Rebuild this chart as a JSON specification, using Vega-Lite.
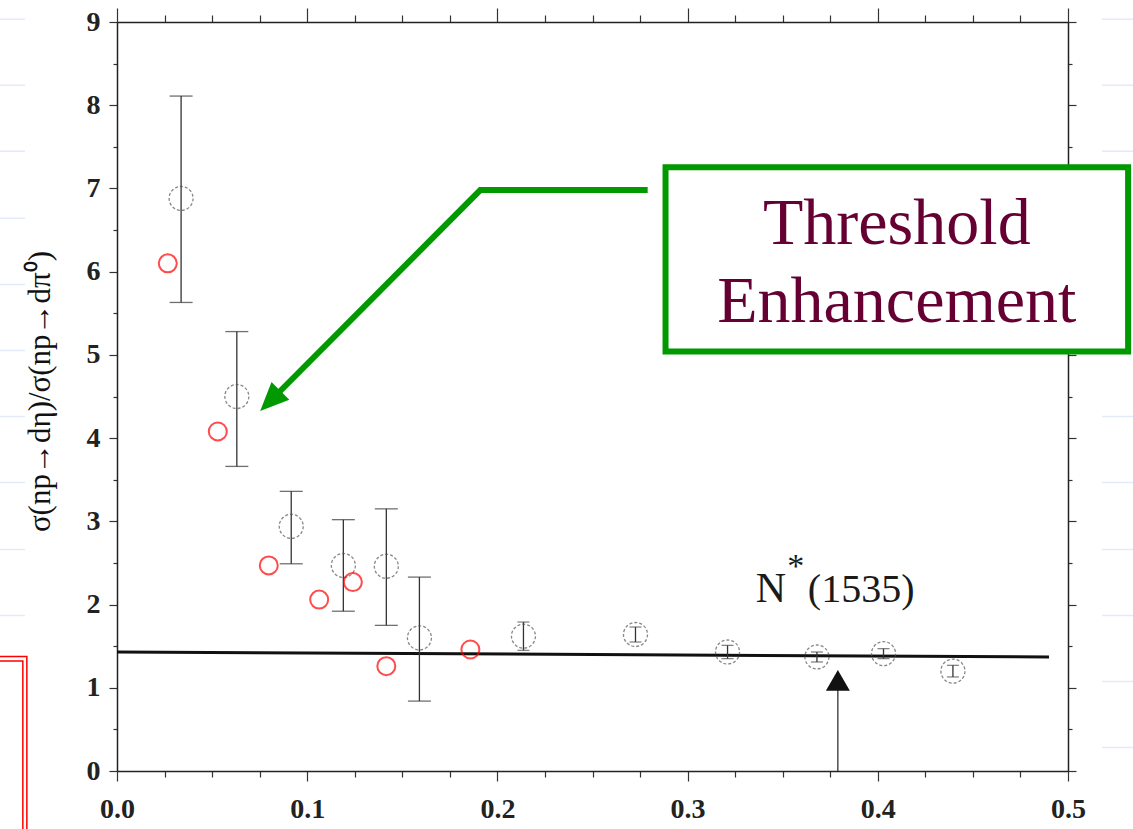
{
  "$schema": "https://vega.github.io/schema/vega-lite/v6.json",
  "width": 951,
  "height": 749,
  "autosize": {"type": "none"},
  "padding": {"left": 117, "top": 22, "right": 65, "bottom": 58},
  "background": "white",
  "config": {"view": {"stroke": null}},
  "resolve": {"axis": {"x": "independent", "y": "independent"}},
  "datasets": {
    "black": [
      {"x": 0.0337, "y": 6.88, "lo": 5.63, "hi": 8.11},
      {"x": 0.063, "y": 4.50, "lo": 3.66, "hi": 5.28},
      {"x": 0.0916, "y": 2.94, "lo": 2.49, "hi": 3.36},
      {"x": 0.119, "y": 2.47, "lo": 1.92, "hi": 3.02},
      {"x": 0.1416, "y": 2.46, "lo": 1.75, "hi": 3.15},
      {"x": 0.159, "y": 1.60, "lo": 0.84, "hi": 2.33},
      {"x": 0.2137, "y": 1.62, "lo": 1.45, "hi": 1.79},
      {"x": 0.2726, "y": 1.64, "lo": 1.55, "hi": 1.73},
      {"x": 0.321, "y": 1.43, "lo": 1.35, "hi": 1.51},
      {"x": 0.368, "y": 1.37, "lo": 1.31, "hi": 1.43},
      {"x": 0.403, "y": 1.41, "lo": 1.35, "hi": 1.47},
      {"x": 0.4395, "y": 1.20, "lo": 1.13, "hi": 1.27}
    ],
    "red": [
      {"x": 0.0267, "y": 6.10},
      {"x": 0.053, "y": 4.08},
      {"x": 0.0798, "y": 2.47},
      {"x": 0.1063, "y": 2.06},
      {"x": 0.124, "y": 2.27},
      {"x": 0.1416, "y": 1.26},
      {"x": 0.1858, "y": 1.46}
    ],
    "fit": [
      {"x": 0.0, "y": 1.43},
      {"x": 0.49, "y": 1.37}
    ],
    "ruling": [
      {"x": -0.07, "x2": -0.0484, "y": 9.032},
      {"x": -0.07, "x2": -0.0484, "y": 8.239},
      {"x": -0.07, "x2": -0.0484, "y": 7.446},
      {"x": -0.07, "x2": -0.0484, "y": 6.641},
      {"x": -0.07, "x2": -0.0484, "y": 5.847},
      {"x": -0.07, "x2": -0.0484, "y": 5.054},
      {"x": -0.07, "x2": -0.0484, "y": 4.261},
      {"x": -0.07, "x2": -0.0484, "y": 3.468},
      {"x": -0.07, "x2": -0.0484, "y": 2.662},
      {"x": -0.07, "x2": -0.0484, "y": 1.869},
      {"x": 0.5179, "x2": 0.54, "y": 9.032},
      {"x": 0.5179, "x2": 0.54, "y": 8.239},
      {"x": 0.5179, "x2": 0.54, "y": 7.446},
      {"x": 0.5179, "x2": 0.54, "y": 4.261},
      {"x": 0.5179, "x2": 0.54, "y": 3.468},
      {"x": 0.5179, "x2": 0.54, "y": 2.662},
      {"x": 0.5179, "x2": 0.54, "y": 1.869},
      {"x": 0.5179, "x2": 0.54, "y": 1.076},
      {"x": 0.5179, "x2": 0.54, "y": 0.282}
    ]
  },
  "layer": [
    {
      "data": {"name": "ruling"},
      "mark": {"type": "rule", "color": "#e3eafa", "strokeWidth": 1.5},
      "encoding": {
        "x": {"field": "x", "type": "quantitative", "scale": {"domain": [0, 0.5], "nice": false, "zero": false}, "axis": null},
        "x2": {"field": "x2"},
        "y": {"field": "y", "type": "quantitative", "scale": {"domain": [0, 9], "nice": false, "zero": false}, "axis": null}
      }
    },
    {
      "data": {"values": [
        {"x": -0.1, "x2": -0.0474, "y": 1.376, "y2": -1},
        {"x": -0.1, "x2": -0.0495, "y": 1.322, "y2": -1}
      ]},
      "mark": {"type": "rect", "fill": "transparent", "stroke": "#ff0000", "strokeWidth": 1.5},
      "encoding": {
        "x": {"field": "x", "type": "quantitative", "scale": {"domain": [0, 0.5], "nice": false, "zero": false}, "axis": null},
        "x2": {"field": "x2"},
        "y": {"field": "y", "type": "quantitative", "scale": {"domain": [0, 9], "nice": false, "zero": false}, "axis": null},
        "y2": {"field": "y2"}
      }
    },
    {
      "data": {"name": "fit"},
      "mark": {"type": "line", "color": "#111111", "strokeWidth": 3},
      "encoding": {
        "x": {"field": "x", "type": "quantitative", "scale": {"domain": [0, 0.5], "nice": false, "zero": false},
          "axis": {"orient": "top", "labels": false, "title": null, "grid": false, "domain": true, "domainColor": "#222222", "domainWidth": 1.5,
            "values": [0,0.025,0.05,0.075,0.1,0.125,0.15,0.175,0.2,0.225,0.25,0.275,0.3,0.325,0.35,0.375,0.4,0.425,0.45,0.475,0.5],
            "tickColor": "#333333", "tickWidth": 1.2,
            "tickSize": {"condition": {"test": "abs(datum.value*10 - round(datum.value*10)) < 0.001", "value": 14}, "value": 7}}},
        "y": {"field": "y", "type": "quantitative", "scale": {"domain": [0, 9], "nice": false, "zero": false},
          "axis": {"orient": "right", "labels": false, "title": null, "grid": false, "domain": true, "domainColor": "#222222", "domainWidth": 1.5,
            "values": [0,0.5,1,1.5,2,2.5,3,3.5,4,4.5,5,5.5,6,6.5,7,7.5,8,8.5,9],
            "tickColor": "#333333", "tickWidth": 1.2,
            "tickSize": {"condition": {"test": "datum.value % 1 == 0", "value": 8}, "value": 4}}}
      }
    },
    {
      "data": {"name": "black"},
      "mark": {"type": "rule", "color": "#333333", "strokeWidth": 1.3},
      "encoding": {
        "x": {"field": "x", "type": "quantitative", "scale": {"domain": [0, 0.5], "nice": false, "zero": false},
          "axis": {"orient": "bottom", "title": null, "grid": false, "domain": true, "domainColor": "#222222", "domainWidth": 1.5,
            "values": [0,0.025,0.05,0.075,0.1,0.125,0.15,0.175,0.2,0.225,0.25,0.275,0.3,0.325,0.35,0.375,0.4,0.425,0.45,0.475,0.5],
            "labelExpr": "abs(datum.value*10 - round(datum.value*10)) < 0.001 ? format(datum.value, '.1f') : ''",
            "labelFont": "Liberation Serif", "labelFontSize": 28, "labelFontWeight": "bold", "labelColor": "#222222",
            "labelPadding": 14, "labelOverlap": false, "labelFlush": false,
            "tickColor": "#333333", "tickWidth": 1.2,
            "tickSize": {"condition": {"test": "abs(datum.value*10 - round(datum.value*10)) < 0.001", "value": 10}, "value": 6}}},
        "y": {"field": "lo", "type": "quantitative", "scale": {"domain": [0, 9], "nice": false, "zero": false},
          "axis": {"orient": "left", "grid": false, "domain": true, "domainColor": "#222222", "domainWidth": 1.5,
            "values": [0,0.5,1,1.5,2,2.5,3,3.5,4,4.5,5,5.5,6,6.5,7,7.5,8,8.5,9],
            "labelExpr": "datum.value % 1 == 0 ? format(datum.value, 'd') : ''",
            "labelFont": "Liberation Serif", "labelFontSize": 28, "labelFontWeight": "bold", "labelColor": "#222222",
            "labelPadding": 9, "labelOverlap": false, "labelFlush": false,
            "tickColor": "#333333", "tickWidth": 1.2,
            "tickSize": {"condition": {"test": "datum.value % 1 == 0", "value": 8}, "value": 4},
            "title": "σ(np→dη)/σ(np→dπ⁰)",
            "titleFont": "Liberation Serif", "titleFontSize": 31, "titleFontWeight": "normal", "titleColor": "#111111",
            "titleAngle": 270, "titleX": -68, "titleY": 369, "titleAlign": "center", "titleBaseline": "alphabetic"}},
        "y2": {"field": "hi"}
      }
    },
    {
      "data": {"name": "black"},
      "transform": [
        {"filter": "datum.hi - datum.lo > 0.5"},
        {"fold": ["lo", "hi"], "as": ["end", "val"]}
      ],
      "mark": {"type": "tick", "orient": "horizontal", "size": 23, "thickness": 1.3, "color": "#333333"},
      "encoding": {
        "x": {"field": "x", "type": "quantitative", "scale": {"domain": [0, 0.5], "nice": false, "zero": false}, "axis": null},
        "y": {"field": "val", "type": "quantitative", "scale": {"domain": [0, 9], "nice": false, "zero": false}, "axis": null}
      }
    },
    {
      "data": {"name": "black"},
      "transform": [
        {"filter": "datum.hi - datum.lo <= 0.5"},
        {"fold": ["lo", "hi"], "as": ["end", "val"]}
      ],
      "mark": {"type": "tick", "orient": "horizontal", "size": 12, "thickness": 1.2, "color": "#444444"},
      "encoding": {
        "x": {"field": "x", "type": "quantitative", "scale": {"domain": [0, 0.5], "nice": false, "zero": false}, "axis": null},
        "y": {"field": "val", "type": "quantitative", "scale": {"domain": [0, 9], "nice": false, "zero": false}, "axis": null}
      }
    },
    {
      "data": {"name": "black"},
      "mark": {"type": "point", "shape": "circle", "filled": false, "size": 576, "stroke": "#555555", "strokeWidth": 1.3, "strokeDash": [3, 2]},
      "encoding": {
        "x": {"field": "x", "type": "quantitative", "scale": {"domain": [0, 0.5], "nice": false, "zero": false}, "axis": null},
        "y": {"field": "y", "type": "quantitative", "scale": {"domain": [0, 9], "nice": false, "zero": false}, "axis": null}
      }
    },
    {
      "data": {"name": "red"},
      "mark": {"type": "point", "shape": "circle", "filled": false, "size": 324, "stroke": "#ff0000", "strokeWidth": 2},
      "encoding": {
        "x": {"field": "x", "type": "quantitative", "scale": {"domain": [0, 0.5], "nice": false, "zero": false}, "axis": null},
        "y": {"field": "y", "type": "quantitative", "scale": {"domain": [0, 9], "nice": false, "zero": false}, "axis": null}
      }
    },
    {
      "data": {"values": [{"x": 0.379, "y": 0, "y2": 0.98}]},
      "mark": {"type": "rule", "color": "#222222", "strokeWidth": 1.2},
      "encoding": {
        "x": {"field": "x", "type": "quantitative", "scale": {"domain": [0, 0.5], "nice": false, "zero": false}, "axis": null},
        "y": {"field": "y", "type": "quantitative", "scale": {"domain": [0, 9], "nice": false, "zero": false}, "axis": null},
        "y2": {"field": "y2"}
      }
    },
    {
      "data": {"values": [{"x": 0.379, "y": 1.088}]},
      "mark": {"type": "point", "shape": "triangle-up", "filled": true, "size": 576, "color": "#111111", "opacity": 1},
      "encoding": {
        "x": {"field": "x", "type": "quantitative", "scale": {"domain": [0, 0.5], "nice": false, "zero": false}, "axis": null},
        "y": {"field": "y", "type": "quantitative", "scale": {"domain": [0, 9], "nice": false, "zero": false}, "axis": null}
      }
    },
    {
      "data": {"values": [{"x": 0.3358, "y": 2.025, "t": "N"}]},
      "mark": {"type": "text", "font": "Liberation Serif", "fontSize": 42, "align": "left", "baseline": "alphabetic", "color": "#1a1a1a"},
      "encoding": {
        "x": {"field": "x", "type": "quantitative", "scale": {"domain": [0, 0.5], "nice": false, "zero": false}, "axis": null},
        "y": {"field": "y", "type": "quantitative", "scale": {"domain": [0, 9], "nice": false, "zero": false}, "axis": null},
        "text": {"field": "t"}
      }
    },
    {
      "data": {"values": [{"x": 0.3632, "y": 2.025, "t": "(1535)"}]},
      "mark": {"type": "text", "font": "Liberation Serif", "fontSize": 40, "align": "left", "baseline": "alphabetic", "color": "#1a1a1a"},
      "encoding": {
        "x": {"field": "x", "type": "quantitative", "scale": {"domain": [0, 0.5], "nice": false, "zero": false}, "axis": null},
        "y": {"field": "y", "type": "quantitative", "scale": {"domain": [0, 9], "nice": false, "zero": false}, "axis": null},
        "text": {"field": "t"}
      }
    },
    {
      "data": {"values": [{"x": 0.3568, "y": 2.326, "t": "*"}]},
      "mark": {"type": "text", "font": "Liberation Serif", "fontSize": 34, "align": "center", "baseline": "alphabetic", "color": "#1a1a1a"},
      "encoding": {
        "x": {"field": "x", "type": "quantitative", "scale": {"domain": [0, 0.5], "nice": false, "zero": false}, "axis": null},
        "y": {"field": "y", "type": "quantitative", "scale": {"domain": [0, 9], "nice": false, "zero": false}, "axis": null},
        "text": {"field": "t"}
      }
    },
    {
      "data": {"values": [{"x": 0.2884, "x2": 0.5316, "y": 7.254, "y2": 5.042}]},
      "mark": {"type": "rect", "fill": "white", "stroke": "#009900", "strokeWidth": 6},
      "encoding": {
        "x": {"field": "x", "type": "quantitative", "scale": {"domain": [0, 0.5], "nice": false, "zero": false}, "axis": null},
        "x2": {"field": "x2"},
        "y": {"field": "y", "type": "quantitative", "scale": {"domain": [0, 9], "nice": false, "zero": false}, "axis": null},
        "y2": {"field": "y2"}
      }
    },
    {
      "data": {"values": [
        {"i": 1, "x": 0.279, "y": 6.98},
        {"i": 2, "x": 0.191, "y": 6.98},
        {"i": 3, "x": 0.0806, "y": 4.446}
      ]},
      "mark": {"type": "line", "color": "#009900", "strokeWidth": 6, "strokeCap": "butt", "strokeJoin": "miter"},
      "encoding": {
        "x": {"field": "x", "type": "quantitative", "scale": {"domain": [0, 0.5], "nice": false, "zero": false}, "axis": null},
        "y": {"field": "y", "type": "quantitative", "scale": {"domain": [0, 9], "nice": false, "zero": false}, "axis": null},
        "order": {"field": "i", "type": "quantitative"}
      }
    },
    {
      "data": {"values": [{"x": 0.0806, "y": 4.446}]},
      "mark": {"type": "point", "shape": "M0,-1L0.88,1L-0.88,1Z", "filled": true, "size": 818, "angle": 225, "color": "#009900", "opacity": 1},
      "encoding": {
        "x": {"field": "x", "type": "quantitative", "scale": {"domain": [0, 0.5], "nice": false, "zero": false}, "axis": null},
        "y": {"field": "y", "type": "quantitative", "scale": {"domain": [0, 9], "nice": false, "zero": false}, "axis": null}
      }
    },
    {
      "data": {"values": [
        {"x": 0.41, "y": 6.328, "t": "Threshold"},
        {"x": 0.41, "y": 5.39, "t": "Enhancement"}
      ]},
      "mark": {"type": "text", "font": "Liberation Serif", "fontSize": 66, "align": "center", "baseline": "alphabetic", "color": "#660033"},
      "encoding": {
        "x": {"field": "x", "type": "quantitative", "scale": {"domain": [0, 0.5], "nice": false, "zero": false}, "axis": null},
        "y": {"field": "y", "type": "quantitative", "scale": {"domain": [0, 9], "nice": false, "zero": false}, "axis": null},
        "text": {"field": "t"}
      }
    }
  ]
}
